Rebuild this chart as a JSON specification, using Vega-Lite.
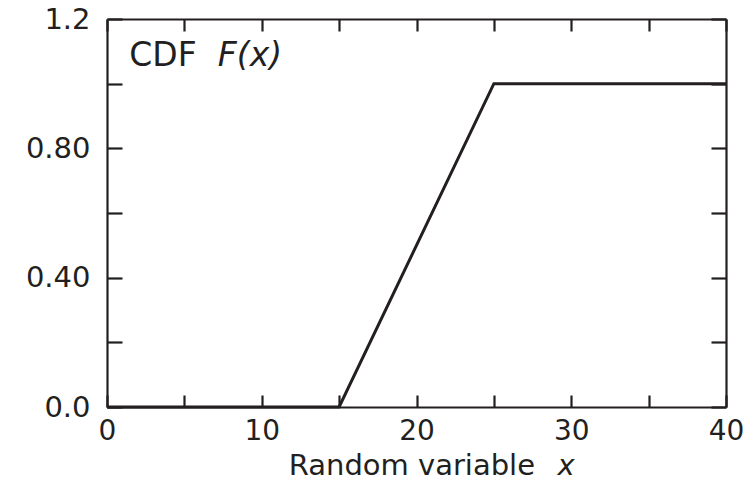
{
  "$schema": "https://vega.github.io/schema/vega-lite/v6.json",
  "width": 619,
  "height": 388,
  "autosize": "none",
  "padding": {"left": 107, "top": 19, "right": 27, "bottom": 75},
  "background": "white",
  "config": {
    "view": {"stroke": null},
    "font": "DejaVu Sans",
    "axis": {
      "grid": false,
      "domainColor": "#231f20",
      "domainWidth": 2.2,
      "tickColor": "#231f20",
      "tickWidth": 2.2,
      "labelColor": "#231f20",
      "labelFont": "DejaVu Sans",
      "labelFontSize": 29,
      "title": null
    }
  },
  "datasets": {
    "cdf": [
      {"x": 0, "F": 0},
      {"x": 15, "F": 0},
      {"x": 25, "F": 1},
      {"x": 40, "F": 1}
    ],
    "one": [{}]
  },
  "layer": [
    {
      "data": {"name": "cdf"},
      "mark": {"type": "line", "color": "#231f20", "strokeWidth": 3, "clip": false},
      "encoding": {
        "x": {
          "field": "x", "type": "quantitative",
          "scale": {"domain": [0, 40], "nice": false, "zero": false},
          "axis": {
            "orient": "bottom",
            "values": [0, 5, 10, 15, 20, 25, 30, 35, 40],
            "labelExpr": "datum.value % 10 === 0 ? datum.label : ''",
            "labelFontSize": 28,
            "tickSize": -12,
            "labelBaseline": "alphabetic",
            "labelPadding": 44,
            "labelFlush": false,
            "labelOverlap": false
          }
        },
        "y": {
          "field": "F", "type": "quantitative",
          "scale": {"domain": [0, 1.2], "nice": false, "zero": false},
          "axis": {
            "orient": "left",
            "values": [0, 0.2, 0.4, 0.6, 0.8, 1.0, 1.2],
            "labelExpr": "abs(datum.value-0)<1e-6 ? '0.0' : abs(datum.value-0.4)<1e-6 ? '0.40' : abs(datum.value-0.8)<1e-6 ? '0.80' : abs(datum.value-1.2)<1e-6 ? '1.2' : ''",
            "tickSize": -15,
            "labelPadding": 32,
            "labelFlush": false,
            "labelOverlap": false
          }
        }
      }
    },
    {
      "data": {"name": "cdf"},
      "mark": {"type": "line", "opacity": 0},
      "encoding": {
        "x": {
          "field": "x", "type": "quantitative",
          "axis": {"orient": "top", "values": [0, 5, 10, 15, 20, 25, 30, 35, 40], "labels": false, "tickSize": -12}
        },
        "y": {
          "field": "F", "type": "quantitative",
          "axis": {"orient": "right", "values": [0, 0.2, 0.4, 0.6, 0.8, 1.0, 1.2], "labels": false, "tickSize": -15}
        }
      }
    },
    {
      "data": {"name": "one"},
      "mark": {"type": "text", "text": "CDF", "font": "DejaVu Sans", "fontSize": 33, "color": "#231f20", "align": "center", "baseline": "alphabetic"},
      "encoding": {
        "x": {"datum": 3.62, "type": "quantitative", "axis": null},
        "y": {"datum": 1.055, "type": "quantitative", "axis": null}
      }
    },
    {
      "data": {"name": "one"},
      "mark": {"type": "text", "text": "F(x)", "font": "DejaVu Sans", "fontStyle": "italic", "fontSize": 33, "color": "#231f20", "align": "center", "baseline": "alphabetic"},
      "encoding": {
        "x": {"datum": 9.24, "type": "quantitative", "axis": null},
        "y": {"datum": 1.055, "type": "quantitative", "axis": null}
      }
    },
    {
      "data": {"name": "one"},
      "mark": {"type": "text", "text": "Random variable", "font": "DejaVu Sans", "fontSize": 29, "color": "#231f20", "align": "center", "baseline": "alphabetic"},
      "encoding": {
        "x": {"datum": 19.7, "type": "quantitative", "axis": null},
        "y": {"datum": -0.2103, "type": "quantitative", "axis": null}
      }
    },
    {
      "data": {"name": "one"},
      "mark": {"type": "text", "text": "x", "font": "DejaVu Sans", "fontStyle": "italic", "fontSize": 29, "color": "#231f20", "align": "center", "baseline": "alphabetic"},
      "encoding": {
        "x": {"datum": 29.66, "type": "quantitative", "axis": null},
        "y": {"datum": -0.2103, "type": "quantitative", "axis": null}
      }
    }
  ],
  "resolve": {"axis": {"x": "independent", "y": "independent"}}
}
